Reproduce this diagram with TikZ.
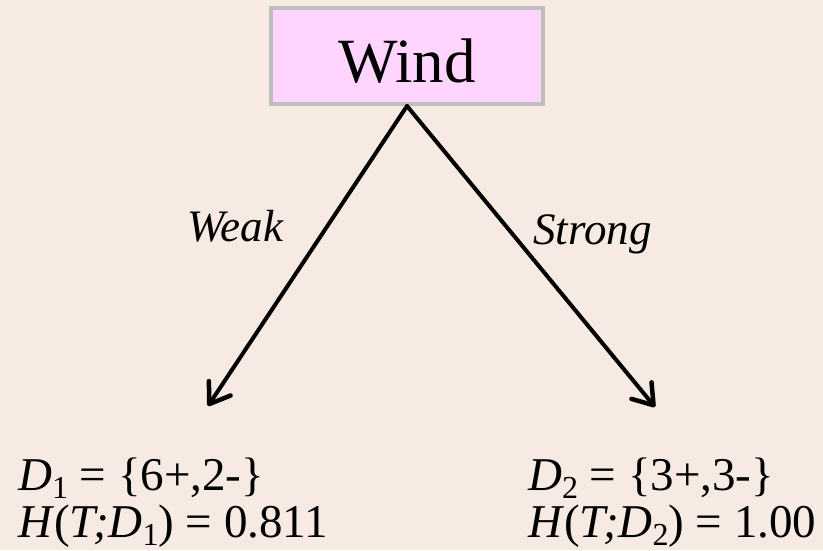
\documentclass[tikz,border=0pt]{standalone}
\usepackage{fontspec}
\setmainfont{Liberation Serif}
\newfontfamily\tnr{Liberation Serif}
\usetikzlibrary{arrows.meta}
\definecolor{bgcol}{HTML}{F6EAE3}
\definecolor{boxpink}{HTML}{FFD5FF}
\definecolor{boxgrey}{HTML}{BEBEBE}
\newcommand{\sbs}[1]{\raisebox{-0.19em}{\fontsize{32}{32}\selectfont #1}}
\tikzset{
  lbltxt/.style={font=\tnr\fontsize{45}{47}\selectfont, inner sep=0pt, anchor=base west},
  bigtxt/.style={font=\tnr\fontsize{47}{47}\selectfont, inner sep=0pt, anchor=base west},
  arr/.style={line width=4pt, line cap=round, -{Straight Barb[length=19pt,width=26pt,line width=4.5pt,round]}},
  windbox/.style={draw=boxgrey, line width=4pt, fill=boxpink, minimum width=272pt, minimum height=96pt, inner sep=0pt,
    font=\tnr\fontsize{63}{63}\selectfont, text height=52pt, text depth=0pt}
}
\begin{document}
\begin{tikzpicture}[x=1pt,y=-1pt]
\fill[bgcol] (0,0) rectangle (823,550);
\useasboundingbox (0,0) rectangle (823,550);
\node[windbox] (wind) at (407,56) {Wind};
\coordinate (t1) at (208,406);
\coordinate (t2) at (655,407);
\draw[arr] (wind.south) -- (t1);
\draw[arr] (wind.south) -- (t2);
\node[lbltxt] (weak) at (187,241) {\itshape Weak};
\node[lbltxt] (strong) at (533,244) {\itshape Strong};
\node[bigtxt] (d1) at (18,490) {\textit{D}\sbs{1} = \{6+,2-\}};
\node[bigtxt] (h1) at (18,537) {\textit{H}(\textit{T;D}\sbs{1}) = 0.811};
\node[bigtxt] (d2) at (528,490) {\textit{D}\sbs{2} = \{3+,3-\}};
\node[bigtxt] (h2) at (528,537) {\textit{H}(\textit{T;D}\sbs{2}) = 1.00};
\end{tikzpicture}
\end{document}
